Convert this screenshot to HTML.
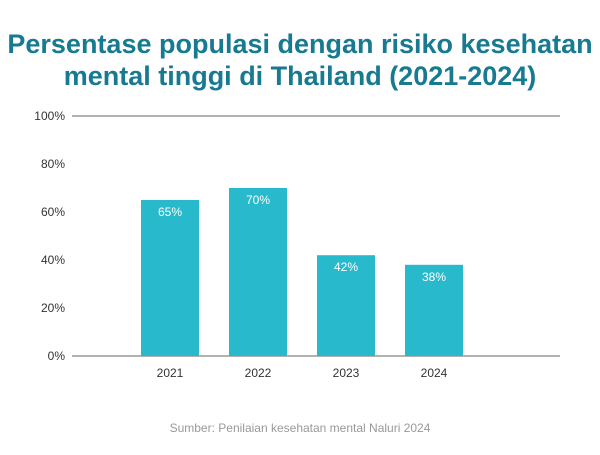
<!DOCTYPE html>
<html><head><meta charset="utf-8"><style>
body{margin:0;width:600px;height:450px;background:#fff;font-family:"Liberation Sans",sans-serif;overflow:hidden}
</style></head><body>
<svg width="600" height="450">
<text x="300" y="53" text-anchor="middle" font-size="27" font-weight="bold" fill="#177a91">Persentase populasi dengan risiko kesehatan</text>
<text x="300" y="85" text-anchor="middle" font-size="27" font-weight="bold" fill="#177a91">mental tinggi di Thailand (2021-2024)</text>
<g id="plot"></g>
<text x="300" y="432" text-anchor="middle" font-size="12" fill="#999">Sumber: Penilaian kesehatan mental Naluri 2024</text>
</svg>
<script>
const categories=["2021","2022","2023","2024"];
const values=[65,70,42,38];
const valueLabels=["65%","70%","42%","38%"];
const ticks=[0,20,40,60,80,100];
const tickLabels=["0%","20%","40%","60%","80%","100%"];
const g=document.getElementById('plot');
const ns='http://www.w3.org/2000/svg';
const y=v=>356-v*2.4;
const xc=i=>170+i*88;
function mk(t,a,txt){const e=document.createElementNS(ns,t);for(const k in a)e.setAttribute(k,a[k]);if(txt!=null)e.textContent=txt;g.appendChild(e);return e;}
ticks.forEach((t,i)=>{
 const l=mk('text',{x:65,y:y(t)+4,'text-anchor':'end','font-size':12,fill:'#333'},tickLabels[i]);
 
 
});
[0,100].forEach(t=>{
 const ln=mk('line',{x1:72,x2:560,y1:y(t),y2:y(t),stroke:'#666','stroke-width':1});
 
 
});
categories.forEach((c,i)=>{
 const r=mk('rect',{x:xc(i)-29,y:y(values[i]),width:58,height:values[i]*2.4,fill:'#29b9cc'});
 
 
 const v=mk('text',{x:xc(i),y:y(values[i])+16,'text-anchor':'middle','font-size':12,fill:'#fff'},valueLabels[i]);
 
 
 const xl=mk('text',{x:xc(i),y:377,'text-anchor':'middle','font-size':12,fill:'#333'},c);
 
 
});
</script>
</body></html>
